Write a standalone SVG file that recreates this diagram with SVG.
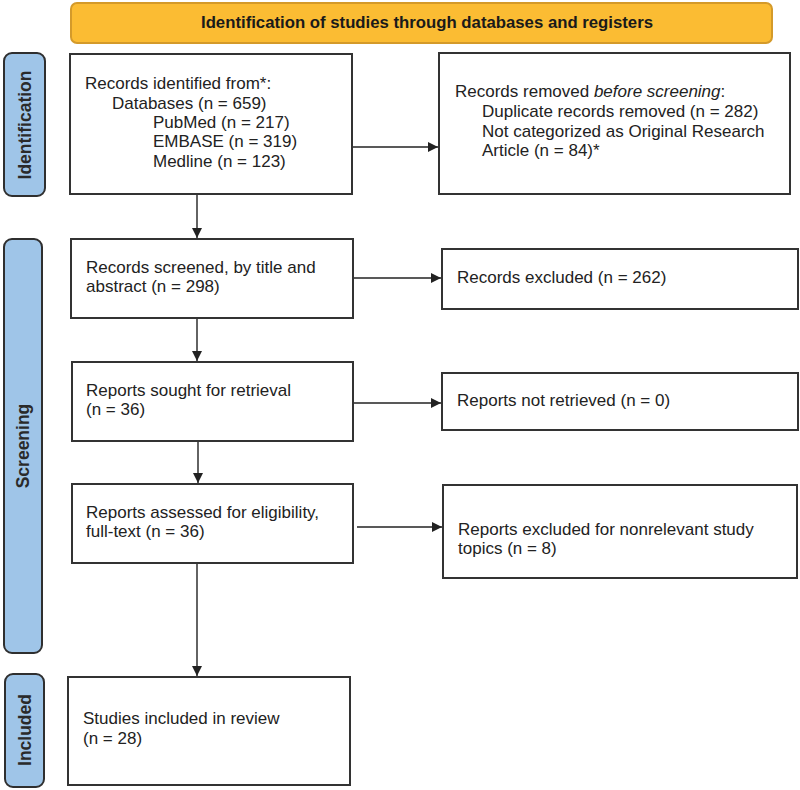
<svg xmlns="http://www.w3.org/2000/svg" width="800" height="790" viewBox="0 0 800 790">
<style>
.box{fill:#fff;stroke:#333;stroke-width:2}
.side{fill:#9fc5e8;stroke:#2f2f2f;stroke-width:2}
.t{font-family:"Liberation Sans",Arial,sans-serif;font-size:17px;fill:#222}
.s{font-family:"Liberation Sans",Arial,sans-serif;font-size:17.5px;font-weight:bold;fill:#2a2a2a}
.b{font-family:"Liberation Sans",Arial,sans-serif;font-size:16.5px;font-weight:bold;fill:#1a1a1a}
.c{stroke:#222;stroke-width:1.4;fill:none;marker-end:url(#ah)}
</style>
<defs>
<marker id="ah" viewBox="0 0 10 10" refX="10" refY="5" markerWidth="10" markerHeight="10" markerUnits="userSpaceOnUse" orient="auto">
<path d="M0,0 L10,5 L0,10 z" fill="#222"/>
</marker>
</defs>
<rect width="800" height="790" fill="#fff"/>
<g id="banner">
<rect x="71" y="3" width="701" height="40" rx="6" fill="#fbbc33" stroke="#d49a2a" stroke-width="2"/>
<text x="201" y="27.5" class="b" textLength="452" lengthAdjust="spacingAndGlyphs">Identification of studies through databases and registers</text>
</g>
<g id="label-identification">
<rect x="4" y="53" width="41" height="143" rx="8" class="side"/>
<text transform="translate(31,125) rotate(-90)" text-anchor="middle" class="s">Identification</text>
</g>
<g id="label-screening">
<rect x="4" y="239" width="38" height="414" rx="8" class="side"/>
<text transform="translate(29,446) rotate(-90)" text-anchor="middle" class="s">Screening</text>
</g>
<g id="label-included">
<rect x="5" y="674" width="39" height="113" rx="8" class="side"/>
<text transform="translate(31,730) rotate(-90)" text-anchor="middle" class="s">Included</text>
</g>
<g id="records-identified">
<rect x="70" y="54" width="282" height="140" class="box"/>
<text class="t"><tspan x="85" y="89">Records identified from*:</tspan><tspan x="112" y="109">Databases (n = 659)</tspan><tspan x="153" y="128">PubMed (n = 217)</tspan><tspan x="153" y="147">EMBASE (n = 319)</tspan><tspan x="153" y="167">Medline (n = 123)</tspan></text>
</g>
<g id="records-removed">
<rect x="439" y="53" width="351" height="141" class="box"/>
<text class="t"><tspan x="455" y="97">Records removed <tspan font-style="italic">before screening</tspan>:</tspan><tspan x="482" y="117">Duplicate records removed (n = 282)</tspan><tspan x="482" y="137">Not categorized as Original Research</tspan><tspan x="482" y="156">Article (n = 84)*</tspan></text>
</g>
<g id="records-screened">
<rect x="71" y="239" width="282" height="79" class="box"/>
<text class="t"><tspan x="86" y="273">Records screened, by title and</tspan><tspan x="86" y="292">abstract (n = 298)</tspan></text>
</g>
<g id="records-excluded">
<rect x="442" y="249" width="356" height="60" class="box"/>
<text class="t" x="457" y="283">Records excluded (n = 262)</text>
</g>
<g id="reports-sought">
<rect x="72" y="362" width="281" height="79" class="box"/>
<text class="t"><tspan x="86" y="396">Reports sought for retrieval</tspan><tspan x="86" y="415">(n = 36)</tspan></text>
</g>
<g id="reports-not-retrieved">
<rect x="442" y="373" width="356" height="57" class="box"/>
<text class="t" x="457" y="406">Reports not retrieved (n = 0)</text>
</g>
<g id="reports-assessed">
<rect x="72" y="484" width="281" height="79" class="box"/>
<text class="t"><tspan x="86" y="518">Reports assessed for eligibility,</tspan><tspan x="86" y="537">full-text (n = 36)</tspan></text>
</g>
<g id="reports-excluded">
<rect x="443" y="485" width="354" height="93" class="box"/>
<text class="t"><tspan x="458" y="535">Reports excluded for nonrelevant study</tspan><tspan x="458" y="554">topics (n = 8)</tspan></text>
</g>
<g id="studies-included">
<rect x="68" y="677" width="282" height="108" class="box"/>
<text class="t"><tspan x="83" y="724">Studies included in review</tspan><tspan x="83" y="744">(n = 28)</tspan></text>
</g>
<g id="connectors">
<line x1="353" y1="147" x2="438" y2="147" class="c"/>
<line x1="197" y1="195" x2="197" y2="238" class="c"/>
<line x1="354" y1="278" x2="441" y2="278" class="c"/>
<line x1="197" y1="319" x2="197" y2="361" class="c"/>
<line x1="354" y1="403" x2="441" y2="403" class="c"/>
<line x1="198" y1="442" x2="198" y2="483" class="c"/>
<line x1="357" y1="527" x2="442" y2="527" class="c"/>
<line x1="197" y1="564" x2="197" y2="676" class="c"/>
</g>
</svg>
